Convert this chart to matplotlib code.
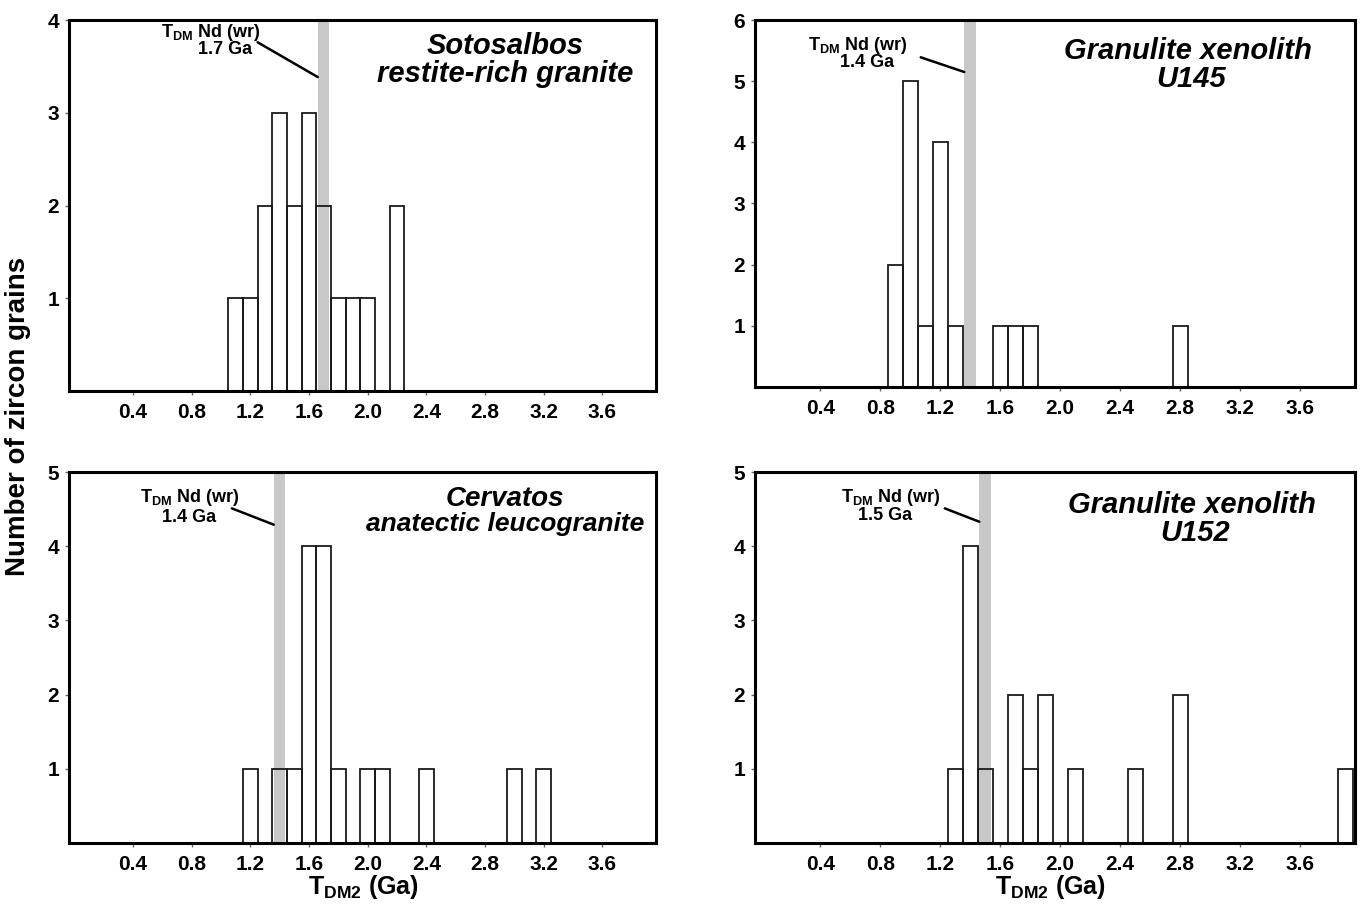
import matplotlib
matplotlib.use("Agg")
import matplotlib.pyplot as plt
import numpy as np

plt.rcParams['font.family'] = ['Liberation Sans', 'DejaVu Sans']
plt.rcParams['mathtext.fontset'] = 'custom'
plt.rcParams['mathtext.rm'] = 'Liberation Sans:bold'
plt.rcParams['mathtext.bf'] = 'Liberation Sans:bold'
plt.rcParams['mathtext.it'] = 'Liberation Sans:bold:italic'

# ---- data: bin centres (Ga) and counts ----
p1_centers = [1.1, 1.2, 1.3, 1.4, 1.5, 1.6, 1.7, 1.8, 1.9, 2.0, 2.2]
p1_counts = [1, 1, 2, 3, 2, 3, 2, 1, 1, 1, 2]

p2_centers = [0.9, 1.0, 1.1, 1.2, 1.3, 1.6, 1.7, 1.8, 2.8]
p2_counts = [2, 5, 1, 4, 1, 1, 1, 1, 1]

p3_centers = [1.2, 1.4, 1.5, 1.6, 1.7, 1.8, 2.0, 2.1, 2.4, 3.0, 3.2]
p3_counts = [1, 1, 1, 4, 4, 1, 1, 1, 1, 1, 1]

p4_centers = [1.3, 1.4, 1.5, 1.7, 1.8, 1.9, 2.1, 2.5, 2.8, 3.9]
p4_counts = [1, 4, 1, 2, 1, 2, 1, 1, 2, 1]

nd_ages = [1.7, 1.4, 1.4, 1.5]
nd_labels = ["1.7 Ga", "1.4 Ga", "1.4 Ga", "1.5 Ga"]
titles = [("Sotosalbos", "restite-rich granite"),
          ("Granulite xenolith", "U145"),
          ("Cervatos", "anatectic leucogranite"),
          ("Granulite xenolith", "U152")]
ymax = [4, 6, 5, 5]
xticks = [0.4, 0.8, 1.2, 1.6, 2.0, 2.4, 2.8, 3.2, 3.6]
xtick_labels = ["0.4", "0.8", "1.2", "1.6", "2.0", "2.4", "2.8", "3.2", "3.6"]

centers = [p1_centers, p2_centers, p3_centers, p4_centers]
counts = [p1_counts, p2_counts, p3_counts, p4_counts]

W, H = 1363, 909
fig = plt.figure(figsize=(W / 100, H / 100), dpi=100)

# axes boxes in pixels (left, right, top, bottom)
boxes = [(69, 656, 20, 391), (755, 1355, 20, 387),
         (69, 656, 472, 843), (755, 1355, 472, 843)]

# layout of annotations (in data coords) and titles (axes fraction)
ann_text = [((0.93, 3.86), (1.03, 3.68), (1.25, 3.76), 3.385),
            ((0.65, 5.59), (0.71, 5.31), (1.07, 5.39), 5.15),
            ((0.79, 4.66), (0.78, 4.39), (1.075, 4.51), 4.29),
            ((0.87, 4.66), (0.83, 4.42), (1.23, 4.51), 4.33)]
title_pos = [((0.743, 0.930), (0.743, 0.855)),
             ((0.722, 0.915), (0.727, 0.840)),
             ((0.743, 0.928), (0.743, 0.860)),
             ((0.728, 0.910), (0.733, 0.836))]
title_size = [(21, 21), (21, 21), (20, 19), (21, 21)]

bw = 0.1
band_w = 0.08
for i in range(4):
    l, r, t, b = boxes[i]
    ax = fig.add_axes([l / W, 1 - b / H, (r - l) / W, (b - t) / H])
    ax.set_xlim(-0.035, 3.965)
    ax.set_ylim(0, ymax[i])
    # Nd model-age band
    ax.axvspan(nd_ages[i] - band_w / 2, nd_ages[i] + band_w / 2,
               color='#c8c8c8', lw=0, zorder=1)
    ax.bar(centers[i], counts[i], width=bw, facecolor='none',
           edgecolor='#1a1a1a', linewidth=1.3, zorder=2)
    for s in ax.spines.values():
        s.set_linewidth(2.2)
        s.set_color('black')
        s.set_zorder(5)
    ax.set_xticks(xticks)
    ax.set_xticklabels(xtick_labels, fontsize=15, fontweight='bold')
    ax.set_yticks(range(1, ymax[i] + 1))
    ax.set_yticklabels([str(v) for v in range(1, ymax[i] + 1)],
                       fontsize=15, fontweight='bold')
    ax.tick_params(axis='x', length=3, width=1, pad=6, color='#666666')
    ax.tick_params(axis='y', length=3, width=1, pad=4, color='#666666')

    (tx1, ty1), (tx2, ty2), (lx, ly), ly2 = ann_text[i]
    ax.text(tx1, ty1, r"T$_{\mathbf{DM}}$ Nd (wr)", fontsize=13,
            fontweight='bold', ha='center', va='center')
    ax.text(tx2, ty2, nd_labels[i], fontsize=13, fontweight='bold',
            ha='center', va='center')
    ax.annotate("", xy=(nd_ages[i] - band_w / 2, ly2), xytext=(lx, ly),
                arrowprops=dict(arrowstyle='-', lw=1.8, color='black',
                                shrinkA=0, shrinkB=0))
    (x1, y1), (x2, y2) = title_pos[i]
    s1, s2 = title_size[i]
    ax.text(x1, y1, titles[i][0], transform=ax.transAxes, fontsize=s1,
            fontweight='bold', style='italic', ha='center', va='center')
    ax.text(x2, y2, titles[i][1], transform=ax.transAxes, fontsize=s2,
            fontweight='bold', style='italic', ha='center', va='center')

fig.text(18 / W, 1 - 416 / H, "Number of zircon grains", rotation=90,
         fontsize=20, fontweight='bold', ha='center', va='center')
for xc in (363, 1050):
    fig.text(xc / W, 1 - 887 / H, r"T$_{\mathbf{DM2}}$ (Ga)", fontsize=18,
             fontweight='bold', ha='center', va='center')

fig.savefig("out.png", dpi=100)
